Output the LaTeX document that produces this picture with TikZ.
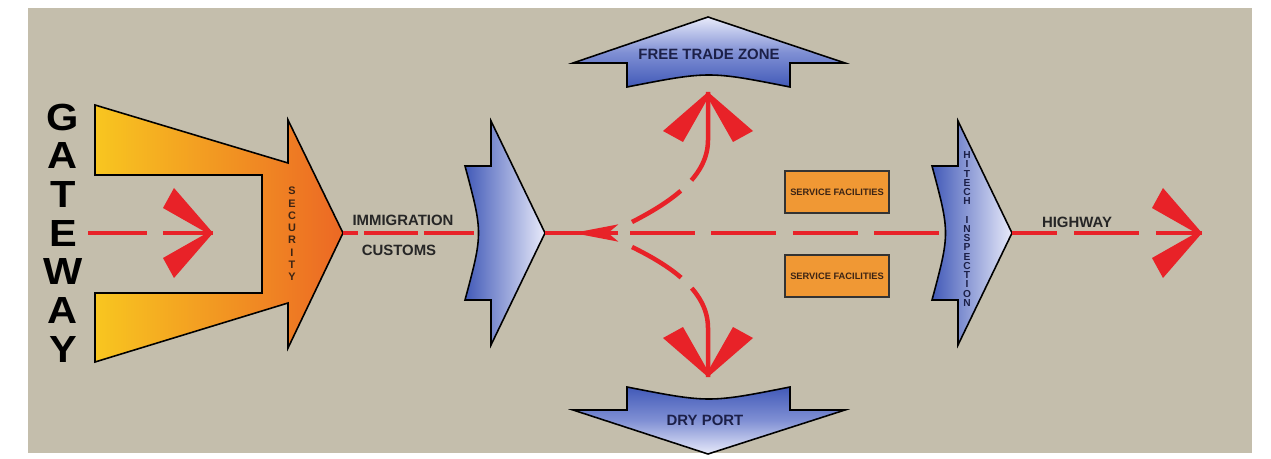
\documentclass[tikz,border=0pt]{standalone}
\usepackage{fontspec}
\setmainfont{Liberation Sans}
\usetikzlibrary{arrows.meta}

\definecolor{bgbeige}{RGB}{196,190,172}
\definecolor{redink}{RGB}{232,34,40}
\definecolor{chevblue}{RGB}{66,90,184}
\definecolor{chevmid}{RGB}{128,144,212}
\definecolor{chevpale}{RGB}{232,234,250}
\definecolor{gateyellow}{RGB}{248,198,32}
\definecolor{gateorange}{RGB}{236,104,36}
\definecolor{boxorange}{RGB}{240,152,52}
\definecolor{inknavy}{RGB}{28,32,72}
\definecolor{inkbrown}{RGB}{60,36,20}

\tikzset{
  redline/.style={draw=redink, line width=0.09cm},
  outline/.style={draw=black, line width=0.9pt, line join=miter},
  roadtext/.style={font=\fontsize{8.5}{10}\selectfont\bfseries, text=black!85, inner sep=0},
  facility/.style={draw=black!80, line width=0.6pt, fill=boxorange, minimum width=2.08cm,
    minimum height=0.84cm, inner sep=0, font=\fontsize{5.3}{6}\selectfont\bfseries, text=inkbrown},
  checkpoint/.pic={
    \draw[outline, left color=chevblue, middle color=chevmid, right color=chevpale]
      (-54,-112) -- (-54,-67) -- (-80,-67) .. controls (-62,0) .. (-80,67)
      -- (-54,67) -- (-54,112) -- (0,0) -- cycle;
    \coordinate (-tip) at (0,0);
    \coordinate (-back) at (-71,0);
  },
  redhead/.pic={
    \fill[redink] (0,0) -- (-39,45) -- (-50,25) -- (-6,0) -- (-50,-25) -- (-39,-45) -- cycle;
  }
}

\begin{document}
\begin{tikzpicture}[x=0.02cm, y=-0.02cm]
\useasboundingbox (0,0) rectangle (1271,459);
\fill[white] (0,0) rectangle (1271,459);
\fill[bgbeige] (28,8) rectangle (1252,453);

% gateway
\draw[outline, left color=gateyellow, right color=gateorange]
  (95,105) -- (288,163) -- (288,120) -- (343,233) -- (288,348) -- (288,303)
  -- (95,362) -- (95,293) -- (262,293) -- (262,175) -- (95,175) -- cycle;
\node[font=\fontsize{21.5}{22}\selectfont\bfseries, align=center, inner sep=0, xscale=1.1] (gateway) at (63,233) {G\\A\\T\\E\\W\\A\\Y};
\node[font=\fontsize{6.2}{7}\selectfont\bfseries, text=inkbrown, align=center, inner sep=0] (security) at (292,234) {S\\E\\C\\U\\R\\I\\T\\Y};

% checkpoints
\pic (imm) at (545,233) {checkpoint};
\pic (hitech) at (1012,233) {checkpoint};
\node[font=\fontsize{5.8}{5.25}\selectfont\bfseries, text=inknavy, align=center, inner sep=0] (inspection) at (967,229)
  {H\\I\\T\\E\\C\\H\\\mbox{}\\I\\N\\S\\P\\E\\C\\T\\I\\O\\N};

% zones
\draw[outline, top color=chevpale, bottom color=chevblue, middle color=chevmid]
  (708,17) -- (845,63) -- (790,63) -- (790,87) .. controls (709,71) .. (627,87)
  -- (627,63) -- (573,63) -- cycle;
\node[roadtext, text=inknavy] (ftz) at (709,54) {FREE TRADE ZONE};
\draw[outline, top color=chevblue, bottom color=chevpale, middle color=chevmid]
  (708,454) -- (845,410) -- (790,410) -- (790,387) .. controls (709,403) .. (627,387)
  -- (627,410) -- (573,410) -- cycle;
\node[roadtext, text=inknavy] (dry) at (705,420) {DRY PORT};

\node[facility] (fac top) at (837,192) {SERVICE FACILITIES};
\node[facility] (fac bottom) at (837,276) {SERVICE FACILITIES};

\node[roadtext] (immigration) at (403,220) {IMMIGRATION};
\node[roadtext] (customs) at (399,250) {CUSTOMS};
\node[roadtext] (highway) at (1077,222) {HIGHWAY};

% flow
\coordinate (gate in) at (88,233);
\coordinate (gate head) at (213,233);
\coordinate (gate tip) at (343,233);
\coordinate (fork) at (618,233);
\coordinate (hub) at (630,233);
\coordinate (ftz start) at (632,222);
\coordinate (dry start) at (632,247);
\coordinate (ftz head) at (708,92);
\coordinate (dry head) at (708,377);
\coordinate (hwy head) at (1202,233);

\draw[redline, dash pattern=on 1.18cm off 0.32cm] (gate in) -- (gate head);
\pic at (gate head) {redhead};
\draw[redline, dash pattern=on 1.08cm off 0.12cm, dash phase=0.78cm] (gate tip) -- (imm-back);
\draw[redline] (fork) -- (imm-tip);
\draw[redline, -{Stealth[length=0.9cm,width=0.34cm,inset=0.2cm]}] (fork) -- ++(-45,0);
\draw[redline, dash pattern=on 1.3cm off 0.33cm] (hub) -- (hitech-back);
\draw[redline, dash pattern=on 1.16cm off 0.3cm on 6cm off 0.1cm]
  (ftz start) .. controls (675,200) and (708,175) .. (708,140) -- (ftz head);
\pic[rotate=90] at (ftz head) {redhead};
\draw[redline, dash pattern=on 1.16cm off 0.3cm on 6cm off 0.1cm]
  (dry start) .. controls (675,268) and (708,293) .. (708,328) -- (dry head);
\pic[rotate=-90] at (dry head) {redhead};
\draw[redline, dash pattern=on 1.3cm off 0.34cm, dash phase=0.4cm] (hitech-tip) -- (hwy head);
\pic at (hwy head) {redhead};
\end{tikzpicture}
\end{document}
